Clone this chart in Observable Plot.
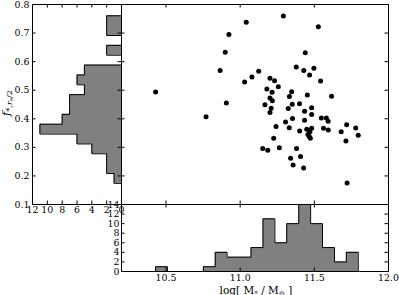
<!DOCTYPE html>
<html><head><meta charset="utf-8">
<script src="https://cdn.jsdelivr.net/npm/d3@7"></script>
<script src="https://cdn.jsdelivr.net/npm/@observablehq/plot@0.6"></script>
<style>
html,body{margin:0;padding:0;background:#fff;}
#chart{position:relative;width:399px;height:295px;overflow:hidden;font-family:"DejaVu Serif",serif;}
#chart svg{position:absolute;max-width:none;background:transparent;overflow:visible;}
.lab{position:absolute;font-size:10.5px;color:#000;white-space:nowrap;line-height:1;}
.lab sub{font-size:70%;vertical-align:-0.25em;}
</style></head><body><div id="chart"></div>
<script>
// scatter: stellar mass vs f_*,re/2
const logMass = [11.041, 10.924, 10.899, 10.865, 11.125, 11.079, 11.030, 10.430, 10.907, 11.291,
  11.527, 11.439, 11.378, 11.429, 11.497, 11.468, 11.542, 11.201, 11.232, 11.257,
  11.180, 11.215, 11.347, 11.332, 11.453, 11.616, 11.201, 11.217, 11.167, 11.209,
  11.351, 11.400, 11.324, 11.482, 11.434, 11.201, 11.482, 11.353, 11.434, 11.547,
  11.581, 11.593, 11.306, 11.242, 11.331, 11.401, 11.449, 11.482, 11.470, 11.457,
  11.466, 11.473, 11.562, 11.594, 11.681, 11.718, 11.779, 11.796, 11.713, 11.226,
  11.152, 11.186, 11.264, 11.380, 11.340, 11.407, 11.357, 11.428, 11.721, 10.770];
const fStar = [0.738, 0.695, 0.633, 0.569, 0.566, 0.546, 0.529, 0.494, 0.455, 0.760,
  0.722, 0.631, 0.581, 0.569, 0.577, 0.553, 0.532, 0.542, 0.533, 0.512,
  0.504, 0.493, 0.495, 0.478, 0.483, 0.479, 0.473, 0.463, 0.449, 0.437,
  0.451, 0.453, 0.436, 0.439, 0.426, 0.422, 0.415, 0.401, 0.395, 0.403,
  0.403, 0.391, 0.389, 0.373, 0.369, 0.357, 0.363, 0.367, 0.355, 0.345,
  0.338, 0.332, 0.367, 0.361, 0.355, 0.379, 0.368, 0.342, 0.322, 0.332,
  0.296, 0.290, 0.299, 0.296, 0.262, 0.268, 0.238, 0.228, 0.175, 0.407];

// bottom histogram (stellar mass)
const massEdges = [10.430, 10.510, 10.591, 10.671, 10.752, 10.832, 10.912, 10.993, 11.073,
  11.154, 11.234, 11.314, 11.395, 11.475, 11.555, 11.636, 11.716, 11.796];
const massCounts = [1, 0, 0, 0, 1, 4, 3, 3, 5, 11, 6, 10, 14, 10, 5, 2, 4];

// left histogram (f_*)
const fEdges = [0.174, 0.2085, 0.243, 0.2775, 0.312, 0.3465, 0.381, 0.4155, 0.450,
  0.4845, 0.519, 0.5535, 0.588, 0.6225, 0.657, 0.6915, 0.726, 0.7605];
const fCounts = [1, 2, 2, 4, 6, 11, 8, 7, 7, 5, 6, 5, 0, 2, 0, 2, 2];

// axes
const massDomain = [10.2, 12.0];
const fDomain = [0.1, 0.8];
const massTicks = [10.5, 11.0, 11.5, 12.0];
const fTicks = [0.1, 0.2, 0.3, 0.4, 0.5, 0.6, 0.7, 0.8];
const leftCountTicks = [12, 10, 8, 6, 4, 2, 0];
const bottomCountTicks = [0, 2, 4, 6, 8, 10, 12, 14];

const points = logMass.map((m, i) => ({m, f: fStar[i]}));
function stepPts(edges, counts) {
  const p = [{e: edges[0], c: 0}];
  counts.forEach((c, i) => { p.push({e: edges[i], c}); p.push({e: edges[i + 1], c}); });
  p.push({e: edges[edges.length - 1], c: 0});
  return p;
}
const L = 3.5;
const inner = (arr, dom) => arr.filter(v => v > Math.min(...dom) && v < Math.max(...dom));
function ticksX(vals, H) {
  return [Plot.tickX(vals, {x: d => d, insetBottom: H - L, stroke: "black"}),
          Plot.tickX(vals, {x: d => d, insetTop: H - L, stroke: "black"})];
}
function ticksY(vals, W) {
  return [Plot.tickY(vals, {y: d => d, insetRight: W - L, stroke: "black"}),
          Plot.tickY(vals, {y: d => d, insetLeft: W - L, stroke: "black"})];
}
const style = {fontFamily: "DejaVu Serif", fontSize: "9.4px", background: "transparent", overflow: "visible", color: "black"};
const chart = document.getElementById("chart");
const place = (svg, left, top) => { svg.style.left = left + "px"; svg.style.top = top + "px"; chart.appendChild(svg); };

// left histogram: frame x 32..121, y 4..204
const fStep = stepPts(fEdges, fCounts);
const leftH = Plot.plot({
  width: 127, height: 220, marginLeft: 32, marginRight: 6, marginTop: 4, marginBottom: 16, style,
  x: {domain: [12, 0], axis: null}, y: {domain: fDomain, axis: null},
  marks: [
    Plot.areaX(fStep, {y: "e", x1: 0, x2: "c", fill: "#808080"}),
    Plot.line(fStep, {x: "c", y: "e", stroke: "black", strokeWidth: 1}),
    ...ticksX(inner(leftCountTicks, [0, 12]), 200),
    ...ticksY(inner(fTicks, fDomain), 89),
    Plot.axisY(fTicks, {anchor: "left", tickSize: 0, tickPadding: 3, tickFormat: d3.format(".1f"), label: null}),
    Plot.axisX(leftCountTicks, {anchor: "bottom", tickSize: 0, tickPadding: 2, tickFormat: d => d, label: null}),
    Plot.frame({stroke: "black"})
  ]
});
place(leftH, 0, 0);

// bottom histogram: frame x 121..388, y 204..271
const mStep = stepPts(massEdges, massCounts);
const botH = Plot.plot({
  width: 309, height: 97, marginLeft: 31, marginRight: 11, marginTop: 6, marginBottom: 24, style,
  x: {domain: massDomain, axis: null}, y: {domain: [0, 14], axis: null},
  marks: [
    Plot.areaY(mStep, {x: "e", y1: 0, y2: "c", fill: "#808080"}),
    Plot.line(mStep, {x: "e", y: "c", stroke: "black", strokeWidth: 1}),
    ...ticksX(inner(massTicks, massDomain), 67),
    ...ticksY(inner(bottomCountTicks, [0, 14]), 267),
    Plot.axisY(bottomCountTicks, {anchor: "left", tickSize: 0, tickPadding: 2, label: null}),
    Plot.axisX(massTicks, {anchor: "bottom", tickSize: 0, tickPadding: 3, tickFormat: d3.format(".1f"), label: null}),
    Plot.frame({stroke: "black"})
  ]
});
place(botH, 90, 198);

// main scatter: frame x 121..388, y 4..204
const M = 6;
const mainP = Plot.plot({
  width: 267 + 2 * M, height: 200 + 2 * M, marginLeft: M, marginRight: M, marginTop: M, marginBottom: M, style,
  x: {domain: massDomain, axis: null}, y: {domain: fDomain, axis: null},
  marks: [
    Plot.dot(points, {x: "m", y: "f", r: 2.5, fill: "black", stroke: "none"}),
    ...ticksX(inner(massTicks, massDomain), 200),
    ...ticksY(inner(fTicks, fDomain), 267),
    Plot.frame({stroke: "black"})
  ]
});
place(mainP, 121 - M, 4 - M);

// axis labels
const yl = document.createElement("div");
yl.className = "lab";
yl.style.fontSize = "11.5px";
yl.innerHTML = '<i>f</i><sub>*,<i>r</i><sub>e</sub>/2</sub>';
yl.style.left = "8px"; yl.style.top = "103px";
yl.style.transform = "translate(-50%,-50%) rotate(-90deg)";
chart.appendChild(yl);
const xl = document.createElement("div");
xl.className = "lab";
xl.innerHTML = 'log[ M<sub>*</sub> / M<sub>⊙</sub> ]';
xl.style.left = "256px"; xl.style.top = "285px";
xl.style.transform = "translateX(-50%)";
chart.appendChild(xl);
</script></body></html>
